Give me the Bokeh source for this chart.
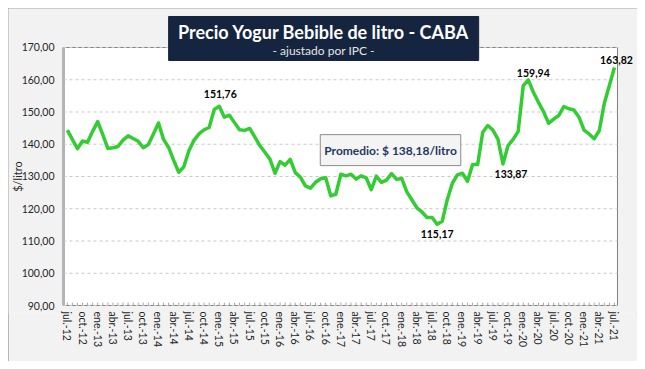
import math
from bokeh.plotting import figure
from bokeh.models import FixedTicker, Label
from bokeh.core.properties import value
from bokeh.embed import file_html
from bokeh.resources import INLINE

# ---- data ----
precio = [
    144.4, 141.5, 138.6, 141.0, 140.6, 144.0, 147.0, 143.0, 138.7, 138.9,
    139.3, 141.3, 142.6, 141.8, 140.9, 138.9, 139.9, 143.2, 146.6, 141.5,
    139.0, 135.0, 131.3, 133.0, 138.0, 141.2, 143.2, 144.5, 145.2, 150.8,
    151.76, 148.4, 149.0, 146.7, 144.5, 144.3, 144.9, 142.3, 139.6, 137.5,
    135.4, 131.0, 134.6, 133.5, 135.3, 131.2, 129.8, 127.1, 126.4, 128.2,
    129.3, 129.6, 124.0, 124.5, 130.7, 130.2, 130.7, 129.2, 130.2, 129.6,
    125.9, 130.1, 128.2, 128.9, 130.9, 129.1, 129.4, 125.3, 122.8, 120.3,
    119.0, 117.3, 117.3, 115.17, 116.1, 122.8, 127.9, 130.5, 131.0, 128.5,
    133.7, 133.7, 143.7, 145.8, 144.4, 141.6, 133.87, 139.6, 141.5, 144.0,
    158.2, 159.94, 156.1, 153.0, 150.1, 146.5, 147.8, 148.9, 151.7, 151.0,
    150.6, 148.4, 144.4, 143.2, 141.7, 144.2, 152.7, 158.2, 163.82,
]
meses = list(range(len(precio)))

tick_labels = [
    "jul.-12", "oct.-12", "ene.-13", "abr.-13", "jul.-13", "oct.-13", "ene.-14",
    "abr.-14", "jul.-14", "oct.-14", "ene.-15", "abr.-15", "jul.-15", "oct.-15",
    "ene.-16", "abr.-16", "jul.-16", "oct.-16", "ene.-17", "abr.-17", "jul.-17",
    "oct.-17", "ene.-18", "abr.-18", "jul.-18", "oct.-18", "ene.-19", "abr.-19",
    "jul.-19", "oct.-19", "ene.-20", "abr.-20", "jul.-20", "oct.-20", "ene.-21",
    "abr.-21", "jul.-21",
]
tick_pos = list(range(0, len(precio), 3))

y_ticks = [90, 100, 110, 120, 130, 140, 150, 160, 170]

# labelled points: index and (dx, dy) pixel offset of the label
etiquetas = [30, 73, 86, 91, 108]
etiqueta_off = {30: (1, 12), 73: (0, -10), 86: (8, -10), 91: (5, 7), 108: (2, 7)}

promedio = 138.18

titulo = "Precio Yogur Bebible de litro - CABA"
subtitulo = "- ajustado por IPC -"
y_titulo = "$/litro"


def fmt(v):
    return f"{v:.2f}".replace(".", ",")


FONT = "Lato"
GRAY_BG = "#f2f2f2"
TXT = "#262626"

# plot-area extent (data units); the frame covers the whole canvas above the
# x-axis labels so that title box, y labels and the last label are not clipped
X0, X1 = -0.75, 108.6
Y0, Y1 = y_ticks[0], y_ticks[-1]

p = figure(width=629, height=353, x_range=(-11.607, 112.55), y_range=(87.52, 182.09),
           output_backend="svg", toolbar_location=None, y_axis_location=None,
           min_border_left=0, min_border_right=0, min_border_top=0,
           min_border_bottom=48,
           background_fill_color=GRAY_BG, border_fill_color=GRAY_BG)
p.styles = {"margin": "8px", "outline": "1px solid #a6a6a6",
            "outline-offset": "-1px"}
p.outline_line_color = None
p.xgrid.grid_line_color = None
p.ygrid.grid_line_color = None

# white plot area
p.quad(left=[X0], right=[X1], bottom=[Y0], top=[Y1], fill_color="white",
       line_color="#7f7f7f", line_width=1)
# shaded left edge of the plot area
p.segment(x0=[X0], x1=[X0], y0=[Y0], y1=[Y1], line_color="#b4b4b4", line_width=3)

# dashed horizontal grid lines
p.segment(x0=[X0] * len(y_ticks), x1=[X1] * len(y_ticks), y0=y_ticks, y1=y_ticks,
          line_color="#c8c8c8", line_dash="3 3", line_width=1)

# monthly tick marks on the bottom edge of the plot area
p.segment(x0=meses, x1=meses, y0=[Y0] * len(meses), y1=[Y0 + 0.9] * len(meses),
          line_color="#a6a6a6", line_width=1)

# y tick labels and y title
p.text(x=[X0] * len(y_ticks), y=y_ticks, text=[fmt(v) for v in y_ticks],
       x_offset=-9, text_align="right", text_baseline="middle",
       text_font=value(FONT), text_font_size="10.5px", text_color=TXT)
p.text(x=[X0], y=[(Y0 + Y1) / 2], text=[y_titulo], angle=math.pi / 2,
       x_offset=-46, text_align="center", text_baseline="middle",
       text_font=value(FONT), text_font_size="11px", text_color=TXT)

# x axis (labels only; line and ticks drawn above)
p.xaxis.bounds = (X0, X1)
p.xaxis.ticker = FixedTicker(ticks=tick_pos)
p.xaxis.major_label_overrides = {i: t for i, t in zip(tick_pos, tick_labels)}
p.xaxis.major_label_orientation = "vertical"
p.xaxis.axis_line_color = None
p.xaxis.major_tick_line_color = None
p.xaxis.minor_tick_line_color = None
p.xaxis.major_tick_in = 0
p.xaxis.major_tick_out = 0
p.xaxis.minor_tick_in = 0
p.xaxis.minor_tick_out = 0
p.xaxis.major_label_standoff = -2
p.xaxis.major_label_text_font = FONT
p.xaxis.major_label_text_font_size = "10.5px"
p.xaxis.major_label_text_color = TXT

# line
p.line(meses, precio, line_color="#33cc33", line_width=3.5, line_join="round")

# data labels
for i in etiquetas:
    dx, dy = etiqueta_off[i]
    p.add_layout(Label(x=meses[i], y=precio[i], text=fmt(precio[i]),
                       x_offset=dx, y_offset=dy, text_align="center",
                       text_baseline="middle", text_font=FONT,
                       text_font_size="10.5px", text_font_style="bold",
                       text_color="black"))

# promedio box
texto_prom = "Promedio: $ " + fmt(promedio) + "/litro"
p.add_layout(Label(x=63.8, y=promedio, text=texto_prom,
                   x_offset=2, y_offset=-2,
                   text_align="center", text_baseline="middle", text_font=FONT,
                   text_font_size="12px", text_font_style="bold", text_alpha=0,
                   background_fill_color="#9a9a9a", background_fill_alpha=0.6,
                   padding=(4, 8)))
p.add_layout(Label(x=63.8, y=promedio, text=texto_prom,
                   text_align="center", text_baseline="middle", text_font=FONT,
                   text_font_size="12px", text_font_style="bold",
                   text_color="#1f3864",
                   background_fill_color="#f4f4f4", border_line_color="#8c8c8c",
                   padding=(4, 8)))

# title box
p.quad(left=[20.0], right=[81.2], bottom=[165.97], top=[179.61],
       fill_color="#15253f", line_color="#15253f")
p.text(x=[50.6], y=[174.9], text=[titulo], text_align="center",
       text_baseline="middle", text_font=value(FONT), text_font_size="18px",
       text_font_style="bold", text_color="white")
p.text(x=[50.6], y=[169.0], text=[subtitulo], text_align="center",
       text_baseline="middle", text_font=value(FONT), text_font_size="12px",
       text_color="#e6e6e6")

open("out.html", "w").write(file_html(p, INLINE))
